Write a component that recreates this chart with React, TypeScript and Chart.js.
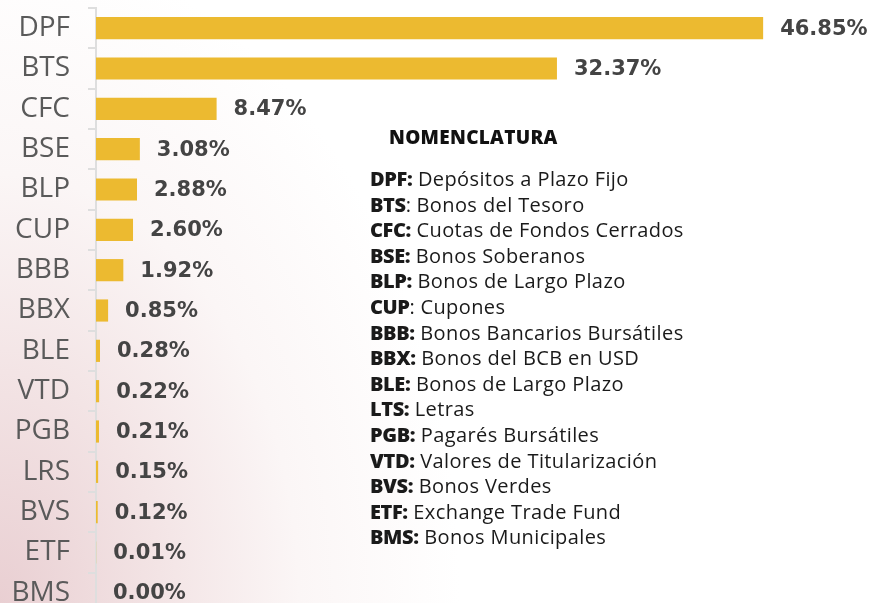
import React, { useEffect, useRef } from "react";
import { Chart, registerables } from "chart.js";

Chart.register(...registerables);

const categories = ["DPF", "BTS", "CFC", "BSE", "BLP", "CUP", "BBB", "BBX", "BLE", "VTD", "PGB", "LRS", "BVS", "ETF", "BMS"];
const values = [46.85, 32.37, 8.47, 3.08, 2.88, 2.6, 1.92, 0.85, 0.28, 0.22, 0.21, 0.15, 0.12, 0.01, 0.0];

const legendTitle = "NOMENCLATURA";
const legendKeys = ["DPF:", "BTS", "CFC:", "BSE:", "BLP:", "CUP", "BBB:", "BBX:", "BLE:", "LTS:", "PGB:", "VTD:", "BVS:", "ETF:", "BMS:"];
const legendSeps = ["", ":", "", "", "", ":", "", "", "", "", "", "", "", "", ""];
const legendNames = [
  "Depósitos a Plazo Fijo",
  "Bonos del Tesoro",
  "Cuotas de Fondos Cerrados",
  "Bonos Soberanos",
  "Bonos de Largo Plazo",
  "Cupones",
  "Bonos Bancarios Bursátiles",
  "Bonos del BCB en USD",
  "Bonos de Largo Plazo",
  "Letras",
  "Pagarés Bursátiles",
  "Valores de Titularización",
  "Bonos Verdes",
  "Exchange Trade Fund",
  "Bonos Municipales",
];

const valueLabelPlugin = {
  id: "valueLabels",
  afterDatasetsDraw(chart: any) {
    const ctx = chart.ctx;
    const meta = chart.getDatasetMeta(0);
    ctx.save();
    ctx.font = "bold 21px 'DejaVu Sans'";
    ctx.fillStyle = "#444444";
    ctx.textAlign = "left";
    ctx.textBaseline = "middle";
    meta.data.forEach((bar: any, i: number) => {
      const v = chart.data.datasets[0].data[i] as number;
      ctx.fillText(v.toFixed(2) + "%", bar.x + 17, bar.y + 1);
    });
    ctx.restore();
  },
};

export default function App() {
  const ref = useRef<HTMLCanvasElement | null>(null);

  useEffect(() => {
    if (!ref.current) return;
    const chart = new Chart(ref.current, {
      type: "bar",
      data: {
        labels: categories,
        datasets: [
          {
            data: values,
            backgroundColor: "#ECBA30",
            borderWidth: 0,
            barPercentage: 0.55,
            categoryPercentage: 1,
          },
        ],
      },
      options: {
        indexAxis: "y",
        responsive: false,
        animation: false,
        devicePixelRatio: 1,
        layout: { padding: { top: 8, bottom: 7, left: 0, right: 63 } },
        plugins: {
          legend: { display: false },
          tooltip: { enabled: false },
        },
        scales: {
          x: {
            display: false,
            min: 0,
            max: 50,
          },
          y: {
            afterFit(scale: any) {
              scale.width = 96;
              scale.paddingTop = 0;
              scale.paddingBottom = 0;
            },
            grid: {
              display: true,
              drawOnChartArea: false,
              drawTicks: true,
              tickLength: 8,
              color: "#dedede",
              lineWidth: 2,
              offset: true,
            },
            border: { display: true, color: "#dedede", width: 2 },
            ticks: {
              padding: 18,
              color: "#5a5a5a",
              font: { family: "'Open Sans'", size: 28, weight: "normal" },
            },
          },
        },
      },
      plugins: [valueLabelPlugin],
    } as any);
    return () => chart.destroy();
  }, []);

  return (
    <div
      style={{
        position: "absolute",
        left: 0,
        top: 0,
        width: 871,
        height: 603,
        overflow: "hidden",
        background:
          "radial-gradient(ellipse 460px 660px at 0% 100%, #e9cfd2 0%, #f3e4e5 35%, #fbf6f6 65%, #ffffff 100%)",
      }}
    >
      <canvas ref={ref} width={871} height={620} style={{ position: "absolute", left: 0, top: 0 }} />
      <div
        style={{
          position: "absolute",
          left: 389,
          top: 124,
          fontFamily: "'Open Sans'",
          fontWeight: 800,
          fontSize: 19,
          letterSpacing: 0.3,
          color: "#111",
          lineHeight: "26px",
        }}
      >
        {legendTitle}
      </div>
      <div
        style={{
          position: "absolute",
          left: 370,
          top: 166,
          fontFamily: "'Open Sans'",
          fontSize: 20,
          color: "#1a1a1a",
          lineHeight: "25.6px",
          whiteSpace: "nowrap",
        }}
      >
        {legendKeys.map((k, i) => (
          <div key={i}>
            <span style={{ fontWeight: 800, letterSpacing: -0.4 }}>{k}</span>
            <span style={{ fontWeight: 400 }}>{legendSeps[i]}</span>
            <span style={{ fontWeight: 400, letterSpacing: 0.4 }}>{" " + legendNames[i]}</span>
          </div>
        ))}
      </div>
    </div>
  );
}
